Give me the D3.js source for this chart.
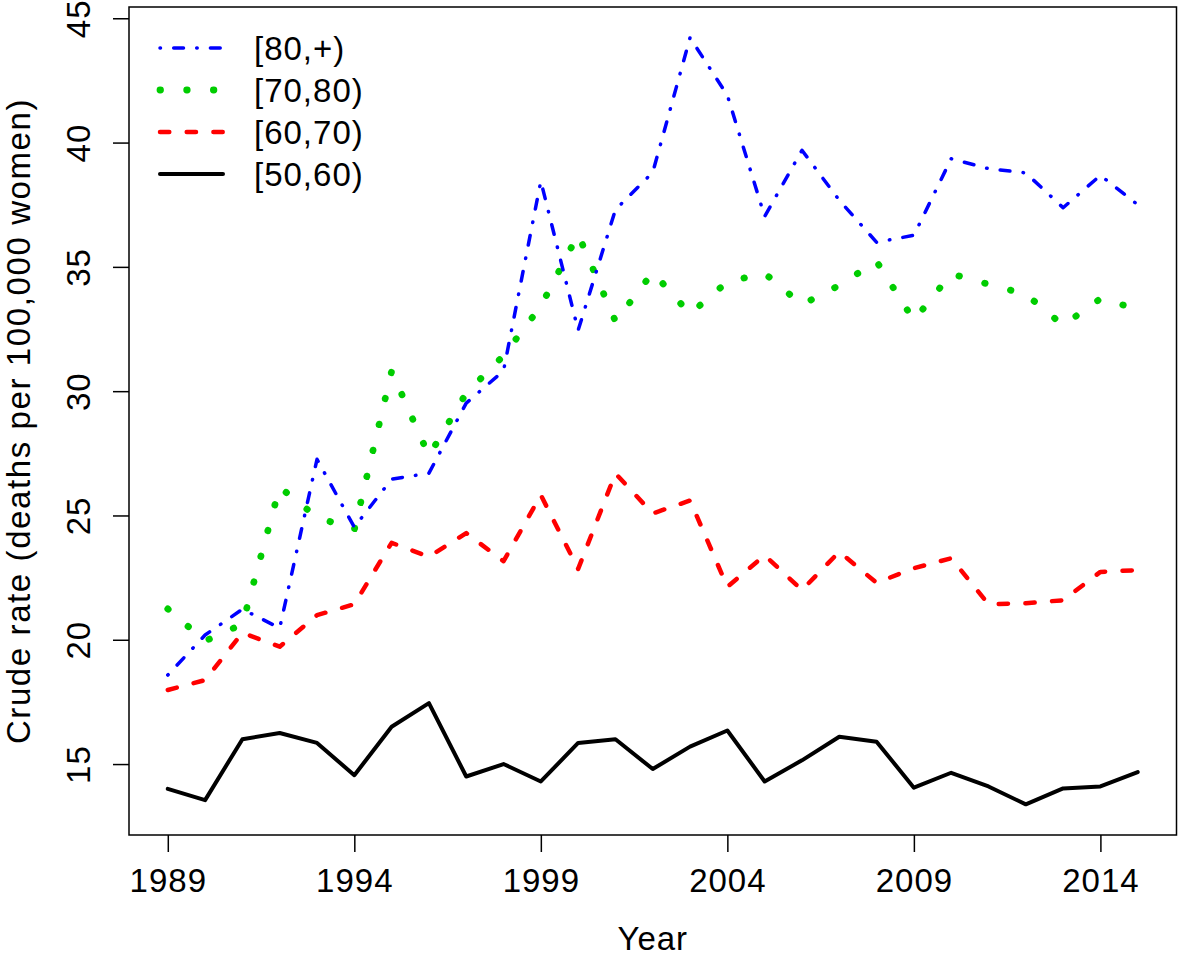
<!DOCTYPE html>
<html>
<head>
<meta charset="utf-8">
<script src="https://cdn.jsdelivr.net/npm/d3@7"></script>
<style>
  body { margin: 0; background: #fff; }
  svg text { font-family: "Liberation Sans", Arial, Helvetica, sans-serif; fill: #000; }
</style>
</head>
<body>
<svg id="canvas"></svg>
<script>
// yearly crude rates
const years = [1989, 1990, 1991, 1992, 1993, 1994, 1995, 1996, 1997, 1998, 1999, 2000, 2001, 2002,
  2003, 2004, 2005, 2006, 2007, 2008, 2009, 2010, 2011, 2012, 2013, 2014, 2015];

const rate80plus = [18.58, 20.19, 21.23, 20.47, 27.26, 24.53, 26.46, 26.70, 29.52, 30.82, 38.45, 32.45, 37.30, 38.80,
  44.22, 41.90, 37.03, 39.69, 37.68, 35.99, 36.27, 39.35, 38.95, 38.78, 37.38, 38.68, 37.50];
const rate70to80 = [21.24, 19.95, 20.63, 26.14, 24.93, 24.43, 30.80, 27.40, 29.92, 31.43, 33.42, 36.31, 32.81, 34.78,
  33.11, 34.40, 34.74, 33.48, 34.26, 35.22, 32.85, 34.72, 34.30, 33.90, 32.65, 33.72, 33.30];
const rate60to70 = [17.98, 18.38, 20.28, 19.72, 20.99, 21.43, 23.90, 23.34, 24.29, 23.16, 25.82, 22.85, 26.69, 25.08,
  25.60, 22.13, 23.40, 22.00, 23.54, 22.29, 22.88, 23.28, 21.43, 21.47, 21.59, 22.73, 22.80];
const rate50to60 = [14.00, 13.55, 16.00, 16.25, 15.85, 14.55, 16.50, 17.45, 14.50, 15.00, 14.30, 15.85, 16.00, 14.80,
  15.70, 16.35, 14.30, 15.15, 16.10, 15.90, 14.05, 14.65, 14.10, 13.38, 14.02, 14.10, 14.68];

const groupLabels = ['[80,+)', '[70,80)', '[60,70)', '[50,60)'];
const xTicks = [1989, 1994, 1999, 2004, 2009, 2014];
const yTicks = [15, 20, 25, 30, 35, 40, 45];
const xTitle = 'Year';
const yTitle = 'Crude rate (deaths per 100,000 women)';

const w = 1178;
const h = 958;
const plot = { left: 129, right: 1176.5, top: 7, bottom: 835 };
const fontSize = '33px';

// line styles per group (same order as groupLabels)
const styles = [
  { color: '#0000ff', width: 3.5, dash: '0.5,13.2,9.8,13.2' },
  { color: '#00cd00', width: 6.8, dash: '0.5,26.2' },
  { color: '#ff0000', width: 4.5, dash: '9.3,17.4' },
  { color: '#000000', width: 4, dash: null }
];
const seriesValues = [rate80plus, rate70to80, rate60to70, rate50to60];

// R style 4% padding around the data range
function padded(lo, hi) {
  const p = (hi - lo) * 0.04;
  return [lo - p, hi + p];
}
const allValues = [].concat(...seriesValues);

const xScale = d3.scaleLinear()
  .domain(padded(d3.min(years), d3.max(years)))
  .range([plot.left, plot.right]);
const yScale = d3.scaleLinear()
  .domain(padded(d3.min(allValues), d3.max(allValues)))
  .range([plot.bottom, plot.top]);

const svg = d3.select('#canvas').attr('width', w).attr('height', h);

const line = d3.line()
  .x((d) => xScale(d[0]))
  .y((d) => yScale(d[1]));

// draw black first so the coloured lines sit on top, like in R
for (let i = seriesValues.length - 1; i >= 0; i--) {
  const pts = years.map((yr, k) => [yr, seriesValues[i][k]]);
  svg.append('path')
    .attr('d', line(pts))
    .attr('fill', 'none')
    .attr('stroke', styles[i].color)
    .attr('stroke-width', styles[i].width)
    .attr('stroke-linecap', 'round')
    .attr('stroke-linejoin', 'round')
    .attr('stroke-dasharray', styles[i].dash);
}

// box
svg.append('rect')
  .attr('x', plot.left)
  .attr('y', plot.top)
  .attr('width', plot.right - plot.left)
  .attr('height', plot.bottom - plot.top)
  .attr('fill', 'none')
  .attr('stroke', '#000')
  .attr('stroke-width', 1.5);

// axes
const xAxis = d3.axisBottom(xScale).tickValues(xTicks).tickFormat(d3.format('d')).tickSize(17).tickPadding(17);
const yAxis = d3.axisLeft(yScale).tickValues(yTicks).tickSize(16);

const gx = svg.append('g').attr('transform', 'translate(0,' + plot.bottom + ')').call(xAxis);
const gy = svg.append('g').attr('transform', 'translate(' + plot.left + ',0)').call(yAxis);

[gx, gy].forEach((g) => {
  g.select('.domain').remove();
  g.selectAll('line').attr('stroke-width', 1.5);
  g.selectAll('text')
    .style('font-size', fontSize)
    .style('letter-spacing', '1px')
    .attr('font-family', null);
});

// R draws y tick labels parallel to the axis
gy.selectAll('text')
  .attr('x', 0)
  .attr('dy', 0)
  .attr('text-anchor', 'middle')
  .attr('transform', 'translate(-39,0) rotate(-90)');

// axis titles
svg.append('text')
  .attr('x', (plot.left + plot.right) / 2)
  .attr('y', 950)
  .attr('text-anchor', 'middle')
  .style('font-size', fontSize)
  .style('letter-spacing', '1px')
  .text(xTitle);

svg.append('text')
  .attr('transform', 'translate(30,' + (plot.top + plot.bottom) / 2 + ') rotate(-90)')
  .attr('text-anchor', 'middle')
  .style('font-size', fontSize)
  .style('letter-spacing', '1.6px')
  .text(yTitle);

// legend, no frame
const legend = svg.append('g');
groupLabels.forEach((lab, i) => {
  const cy = 48 + i * 42;
  legend.append('line')
    .attr('x1', 160).attr('x2', 223)
    .attr('y1', cy).attr('y2', cy)
    .attr('stroke', styles[i].color)
    .attr('stroke-width', styles[i].width)
    .attr('stroke-linecap', 'round')
    .attr('stroke-dasharray', styles[i].dash);
  legend.append('text')
    .attr('x', 254)
    .attr('y', cy + 12)
    .style('font-size', fontSize)
    .style('letter-spacing', '1px')
    .text(lab);
});
</script>
</body>
</html>
